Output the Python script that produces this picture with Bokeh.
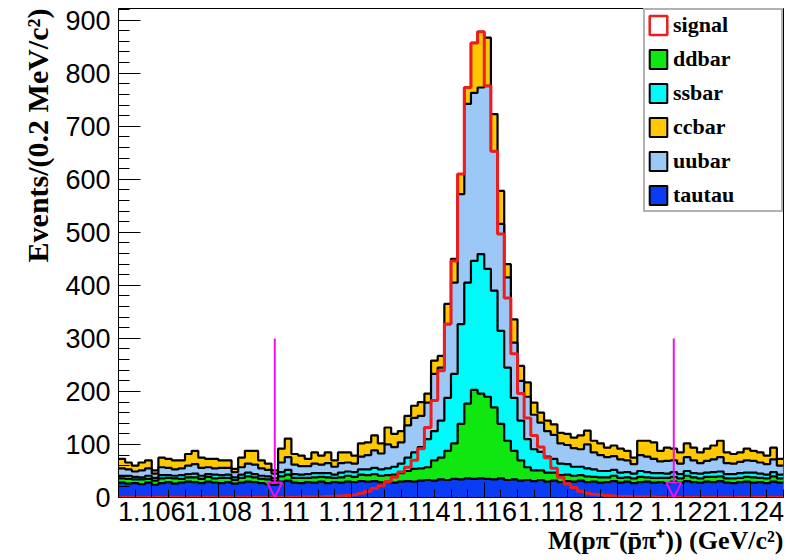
import numpy as np
from bokeh.plotting import figure
from bokeh.models import Range1d, FixedTicker, Title, Legend, LegendItem, Arrow, NormalHead
from bokeh.embed import file_html
from bokeh.resources import INLINE

# ---- data (histogram, 100 bins of 0.2 MeV from 1.105 to 1.125 GeV) ----
x_lo, bin_w, n_bins = 1.105, 0.0002, 100

tautau = [28,26,27,25,28,24,27,29,26,28, 30,29,27,30,28,27,29,26,28,30,
          29,27,25,24,30,32,28,27,29,28, 30,27,29,28,30,29,31,30,31,29,
          30,28,30,31,30,32,33,32,34,33, 35,34,36,35,36,35,34,36,33,34,
          32,33,31,33,30,32,29,31,30,32, 29,30,28,29,31,28,30,27,29,30,
          28,29,27,30,28,31,29,28,30,29, 31,28,27,29,30,28,29,27,30,28]
ddbar = [8,9,7,9,7,8,9,8,10,7, 8,9,8,9,8,10,8,7,9,10,
         9,8,9,7,10,11,9,10,8,10, 9,11,8,10,11,10,12,12,13,12,
         12,15,16,19,24,23,24,38,41,55, 67,105,141,168,160,155,136,103,74,54,
         38,24,20,18,17,15,13,12,11,10, 11,9,10,9,10,9,8,9,10,8,
         9,8,10,9,8,10,9,8,9,10, 9,8,9,8,9,10,8,9,10,8]
ssbar = [5,6,5,4,6,5,6,5,5,7, 6,7,6,5,7,5,6,5,6,7,
         6,6,6,5,8,9,7,6,7,8, 7,8,6,9,8,9,10,11,12,12,
         13,15,18,25,31,40,53,55,70,100, 131,188,228,243,263,241,220,175,138,100,
         75,53,40,35,30,26,22,20,17,16, 15,14,12,12,11,10,10,9,11,10,
         9,9,8,9,8,9,8,9,8,9, 9,8,8,9,8,9,8,7,8,7]
uubar = [14,12,10,13,14,8,15,14,12,13, 16,18,15,13,12,14,13,10,14,17,
         18,14,12,9,18,24,18,16,15,18, 16,19,15,18,17,16,24,27,33,30,
         45,37,40,61,65,59,69,108,100,139, 172,245,337,317,314,345,263,202,170,104,
         75,80,65,55,48,45,38,36,35,33, 45,32,30,26,26,25,22,18,30,29,
         27,22,24,22,20,26,24,20,22,24, 27,21,20,21,23,22,21,20,24,17]
ccbar = [18,13,11,15,15,6,18,17,17,15, 22,25,19,16,18,14,14,6,18,24,
         26,15,12,6,26,35,20,20,14,21, 17,20,12,20,19,15,25,24,28,19,
         32,25,21,18,23,26,17,25,22,38, 45,38,31,94,105,91,70,62,25,44,
         28,27,23,19,20,20,20,21,20,26, 26,22,22,18,20,20,18,12,27,30,
         31,20,25,22,21,26,24,20,23,26, 31,20,18,18,22,19,19,16,22,13]
signal = [0,0,0,0,0,0,0,0,0,0, 0,0,0,0,0,0,0,0,0,0,
          0,0,0,0,0,0,0,1,1,1, 1,2,2,3,4,5,8,12,17,22,
          30,38,48,57,70,92,132,183,239,327, 446,610,773,857,878,776,653,497,376,271,
          196,150,117,95,75,55,38,26,19,12, 8,6,5,4,3,2,2,1,1,1,
          1,0,0,0,0,0,0,0,0,0, 0,0,0,0,0,0,0,0,0,0]

cut_lo, cut_hi, arrow_top = 1.1097, 1.1217, 300

xticks = [1.106, 1.108, 1.11, 1.112, 1.114, 1.116, 1.118, 1.12, 1.122, 1.124]
xtick_labels = ["1.106", "1.108", "1.11", "1.112", "1.114", "1.116", "1.118", "1.12", "1.122", "1.124"]
yticks = [0, 100, 200, 300, 400, 500, 600, 700, 800, 900]

names = ["tautau", "ddbar", "ssbar", "uubar", "ccbar"]   # stack order, bottom -> top
series = [tautau, ddbar, ssbar, uubar, ccbar]
colors = {"tautau": "#0a3cf5", "ddbar": "#10e610", "ssbar": "#00fafa",
          "uubar": "#9cc8f8", "ccbar": "#ffc800"}
sig_color = "#ee1c1c"
arrow_color = "#ee10ee"

# ---- figure ----
p = figure(width=790, height=560, output_backend="svg", toolbar_location=None,
           x_range=Range1d(1.105, 1.125), y_range=Range1d(0, 922),
           min_border_left=118, min_border_right=7, min_border_top=8, min_border_bottom=63)
p.grid.visible = False
p.outline_line_color = "black"
p.outline_line_width = 1

edges = x_lo + bin_w * np.arange(n_bins + 1)
cum = np.cumsum(np.array(series, dtype=float), axis=0)

for i in reversed(range(len(names))):
    top = np.append(cum[i], cum[i][-1])
    p.varea_step(x=edges, y1=np.zeros_like(top), y2=top, step_mode="after",
                 fill_color=colors[names[i]])
    p.step(x=edges, y=top, mode="after", line_color="black", line_width=2.2)

sig = np.append(np.array(signal, float), signal[-1])
p.step(x=edges, y=sig, mode="after", line_color=sig_color, line_width=3)

for xc in (cut_lo, cut_hi):
    p.add_layout(Arrow(x_start=xc, y_start=arrow_top, x_end=xc, y_end=0,
                       line_color=arrow_color, line_width=2,
                       end=NormalHead(size=15, line_color=arrow_color, line_width=2,
                                      fill_color="white", fill_alpha=0.0)))

# axes
p.xaxis.ticker = FixedTicker(ticks=xticks, minor_ticks=list(np.round(np.arange(1.105, 1.12501, 0.0005), 5)))
p.xaxis.major_label_overrides = {t: l for t, l in zip(xticks, xtick_labels)}
p.yaxis.ticker = FixedTicker(ticks=yticks, minor_ticks=list(range(0, 921, 20)))
for ax in (p.xaxis[0], p.yaxis[0]):
    ax.major_tick_out = 0
    ax.minor_tick_out = 0
    ax.major_label_text_font = "Liberation Sans"
    ax.major_label_text_font_size = "27px"
    ax.major_label_text_color = "black"
    ax.axis_line_color = "black"
    ax.major_tick_line_color = "black"
    ax.minor_tick_line_color = "black"
p.xaxis.major_tick_in = 15
p.xaxis.minor_tick_in = 8
p.yaxis.major_tick_in = 22
p.yaxis.minor_tick_in = 11
p.xaxis.major_label_standoff = 4
p.yaxis.major_label_standoff = 8

# axis titles (right / top aligned as in ROOT)
p.add_layout(Title(text="M(pπ⁻(p̄π⁺)) (GeV/c²)", align="right", standoff=0, offset=0,
                   text_font="Liberation Serif", text_font_style="bold", text_font_size="26px",
                   text_color="black"), "below")
p.add_layout(Title(text="Events/(0.2 MeV/c²)", align="right", standoff=18, offset=0,
                   text_font="Liberation Serif", text_font_style="bold", text_font_size="30px",
                   text_color="black"), "left")

# legend (proxy renderers with ROOT-like boxes, zero size outside the view)
items = []
r = p.quad(left=[0], right=[0], top=[0], bottom=[0], fill_color="white", line_color=sig_color, line_width=2.5)
items.append(LegendItem(label="signal", renderers=[r]))
for nm in ["ddbar", "ssbar", "ccbar", "uubar", "tautau"]:
    r = p.quad(left=[0], right=[0], top=[0], bottom=[0], fill_color=colors[nm], line_color="black", line_width=2)
    items.append(LegendItem(label=nm, renderers=[r]))
leg = Legend(items=items, location="top_right", margin=0, padding=2, spacing=8,
             glyph_width=22, glyph_height=24, label_height=24, label_width=106, label_standoff=4,
             label_text_font="Liberation Serif", label_text_font_style="bold", label_text_font_size="22px",
             label_text_color="black",
             border_line_color="#666666", border_line_width=2, background_fill_color="white",
             background_fill_alpha=1.0)
p.add_layout(leg)

open("out.html", "w").write(file_html(p, INLINE))
